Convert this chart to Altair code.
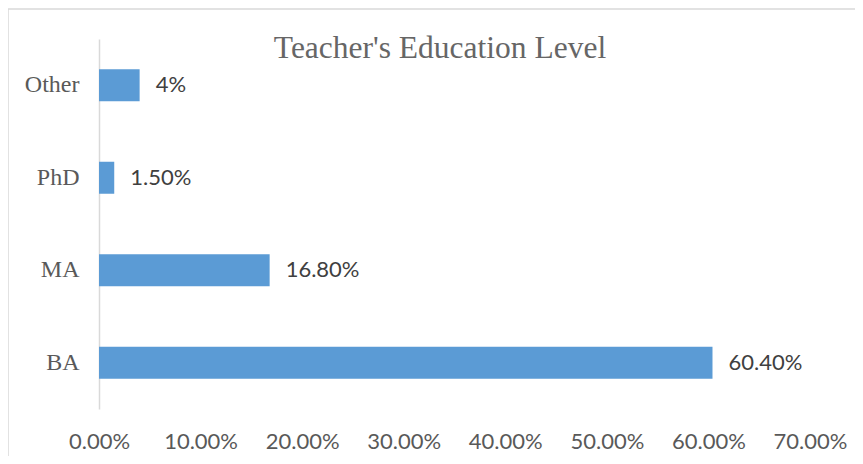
import altair as alt
import pandas as pd

categories = ["Other", "PhD", "MA", "BA"]
values = [0.04, 0.015, 0.168, 0.604]
value_labels = ["4%", "1.50%", "16.80%", "60.40%"]
x_ticks = [0.0, 0.1, 0.2, 0.3, 0.4, 0.5, 0.6, 0.7]
title_text = "Teacher's Education Level"

df = pd.DataFrame({"cat": categories, "val": values, "lab": value_labels})
one = pd.DataFrame({"t": [title_text]})

W, H = 711, 370

y_enc = alt.Y(
    "cat:N",
    sort=categories,
    title=None,
    scale=alt.Scale(paddingInner=0.654, paddingOuter=0.327),
    axis=alt.Axis(
        domainColor="#d9d9d9",
        domainWidth=1.5,
        ticks=False,
        labelFont="Liberation Serif",
        labelFontSize=24,
        labelColor="#595959",
        labelPadding=20,
    ),
)
x_enc = alt.X(
    "val:Q",
    title=None,
    scale=alt.Scale(domain=[0, 0.7], nice=False),
    axis=alt.Axis(
        values=x_ticks,
        format=".2%",
        domain=False,
        ticks=False,
        grid=False,
        labelFont="Lato",
        labelFontSize=22,
        labelColor="#595959",
        labelPadding=22,
        labelFlush=False,
    ),
)

bars = alt.Chart(df).mark_bar(color="#5B9BD5").encode(x=x_enc, y=y_enc)
labels = alt.Chart(df).mark_text(
    align="left", baseline="middle", dx=16, font="Lato", fontSize=22, color="#404040"
).encode(x="val:Q", y=alt.Y("cat:N", sort=categories), text="lab:N")

title = alt.Chart(one).mark_text(
    align="center", baseline="alphabetic", font="Liberation Serif", fontSize=31.5, color="#666666"
).encode(x=alt.value(341), y=alt.value(19), text="t:N")

border_top = alt.Chart(one).mark_rule(color="#d9d9d9", strokeWidth=1.5).encode(
    x=alt.value(-91), x2=alt.value(760), y=alt.value(-30)
)
border_left = alt.Chart(one).mark_rule(color="#d9d9d9", strokeWidth=1.5).encode(
    x=alt.value(-91), y=alt.value(-30), y2=alt.value(420)
)

chart = (
    alt.layer(border_top, border_left, bars, labels, title)
    .properties(
        width=W,
        height=H,
        autosize=alt.AutoSizeParams(type="none"),
        padding={"left": 91, "top": 31, "right": 45, "bottom": 47},
    )
    .configure_view(stroke=None)
)

chart.save("out.html", embed_options={"renderer": "svg", "actions": False})
